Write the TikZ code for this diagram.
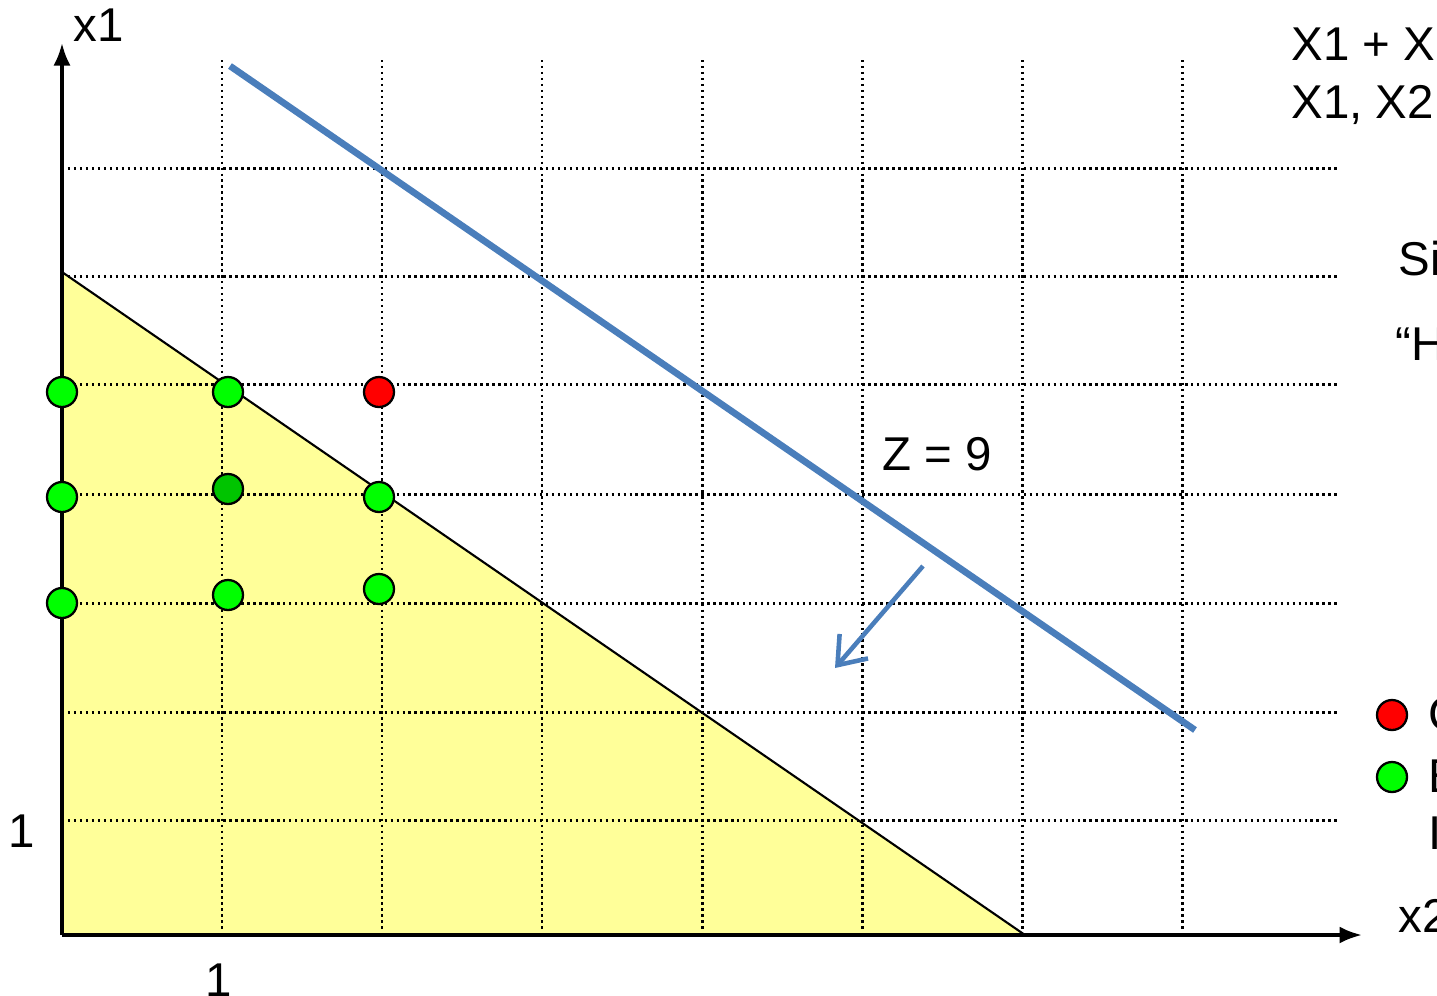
\documentclass[tikz,border=0pt]{standalone}
\usepackage{fontspec}
\setmainfont{Liberation Sans}
\usetikzlibrary{arrows.meta}
\definecolor{feasible}{HTML}{FFFF99}
\definecolor{objblue}{HTML}{4A7EBB}
\definecolor{ptgreen}{HTML}{00FF00}
\definecolor{ptdark}{HTML}{00C400}

\begin{document}
\begin{tikzpicture}[
    x=0.02cm, y=-0.02cm,
    lbl/.style={font=\fontsize{27}{32}\selectfont, inner sep=0pt, anchor=base west},
    gridline/.style={line width=1.7pt, dash pattern=on 1.4pt off 2pt},
    axis/.style={line width=2pt, -{Latex[length=4.5mm, width=3.4mm]}},
    pt/.style={circle, draw, line width=1.3pt, minimum size=0.6cm, inner sep=0pt},
    good/.style={pt, fill=ptgreen},
    bad/.style={pt, fill=red},
    obj/.style={objblue, line width=3.8pt},
    dirarrow/.style={objblue, line width=2.6pt, -{Straight Barb[length=5mm, width=7.5mm, line width=2.6pt]}}
]
\useasboundingbox (0,0) rectangle (1437,995);

% feasible region
\coordinate (O) at (62,935);
\coordinate (A) at (62,272);
\coordinate (B) at (1025,935);
\fill[feasible] (O) -- (A) -- (B) -- cycle;

% grid
\foreach \gx in {222,382,542,702,862,1022,1182}
    \draw[gridline] (\gx,60) -- (\gx,929);
\foreach \gy in {168,276,384,494,603,712,820}
    \draw[gridline] (62,\gy) -- (1340,\gy);

\draw[line width=1.2pt] (A) -- (B);

% axes
\coordinate (x1tip) at (62,43);
\coordinate (x2tip) at (1362,935);
\draw[axis] (O) -- (x1tip);
\draw[axis] (O) -- (x2tip);

% objective line and direction
\coordinate (z1) at (230,66);
\coordinate (z2) at (1195,730);
\draw[obj] (z1) -- (z2);
\coordinate (d1) at (923,566);
\coordinate (d2) at (835,668);
\draw[dirarrow] (d1) -- (d2);

% points
\node[good] (p1) at (62,392) {};
\node[good] (p2) at (228,392) {};
\node[bad] (p3) at (379,392) {};
\node[good] (p4) at (62,497) {};
\node[pt, fill=ptdark] (p5) at (228,489) {};
\node[good] (p6) at (379,497) {};
\node[good] (p7) at (62,603) {};
\node[good] (p8) at (228,595) {};
\node[good] (p9) at (379,589) {};

% labels
\node[lbl] (lx1) at (73,41) {x1};
\node[lbl] (lx2) at (1398,932) {x2};
\node[lbl] (one1) at (8,847) {1};
\node[lbl] (one2) at (205,996) {1};
\node[lbl] (zval) at (882,470) {Z = 9};

\node[lbl] (c1) at (1291,60) {X1 + X};
\node[lbl] (c2) at (1291,118) {X1, X2};
\node[lbl] (si) at (1398,275) {Si};
\node[lbl] (hq) at (1395,360) {“H};

% legend
\node[bad] (kred) at (1392,715) {};
\node[lbl] (tred) at (1428,730) {C};
\node[good] (kgreen) at (1392,777) {};
\node[lbl] (tgreen) at (1428,792) {E};
\node[lbl] (tgreen2) at (1428,849) {I};
\end{tikzpicture}
\end{document}
